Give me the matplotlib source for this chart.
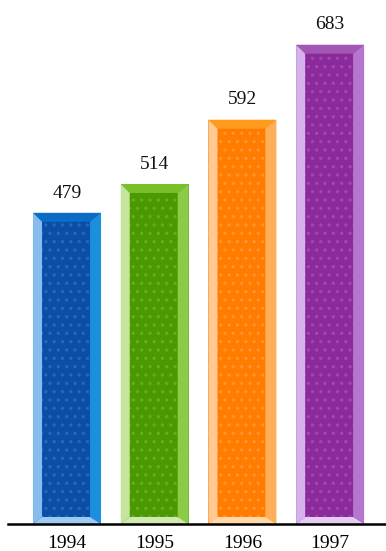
import matplotlib
matplotlib.use("Agg")
import matplotlib.pyplot as plt
from matplotlib.patches import Polygon

years = ["1994", "1995", "1996", "1997"]
values = [479, 514, 592, 683]

# face, top bevel, left bevel, right bevel, bottom bevel, dot texture
palette = {
    "1994": ["#0a4ea6", "#0b6cc8", "#86bdee", "#1b8fdd", "#9ccaf2", "#2a66b8"],
    "1995": ["#4b9900", "#78bf2a", "#c4e4a0", "#8ccb48", "#cfe9b0", "#66ac22"],
    "1996": ["#ff7c00", "#ff9a1e", "#ffc991", "#ffae5a", "#ffd7a8", "#ff9530"],
    "1997": ["#8b2a9b", "#a456b4", "#d6b2ec", "#b675ce", "#e4cdf2", "#9f48ae"],
}

plt.rcParams["hatch.linewidth"] = 1.2

W, H, DPI = 386, 551, 100
fig = plt.figure(figsize=(W / DPI, H / DPI), dpi=DPI)
ax = fig.add_axes([8 / W, 27 / H, 378 / W, 524 / H])

ax.set_xlim(-0.673, 3.637)
ax.set_ylim(101.3, 737.3)
floor = ax.get_ylim()[0]

x = list(range(len(years)))
bars = ax.bar(x, [v - floor for v in values], width=0.775, bottom=floor,
              color=[palette[y][0] for y in years],
              edgecolor=[palette[y][5] for y in years],
              linewidth=0, hatch="..", zorder=2)

fig.canvas.draw()
to_disp = ax.transData
to_data = ax.transData.inverted()

bev_t, bev_l, bev_r, bev_b = 9, 9, 11, 7
for b, yr in zip(bars, years):
    face, ctop, cleft, cright, cbot, cdot = palette[yr]
    (x0, y0), (x1, y1) = to_disp.transform([(b.get_x(), b.get_y()),
                                             (b.get_x() + b.get_width(),
                                              b.get_y() + b.get_height())])
    ix0, iy0, ix1, iy1 = x0 + bev_l, y0 + bev_b, x1 - bev_r, y1 - bev_t
    quads = [
        ([(x0, y1), (x1, y1), (ix1, iy1), (ix0, iy1)], ctop),
        ([(x0, y0), (x0, y1), (ix0, iy1), (ix0, iy0)], cleft),
        ([(x1, y0), (x1, y1), (ix1, iy1), (ix1, iy0)], cright),
        ([(x0, y0), (x1, y0), (ix1, iy0), (ix0, iy0)], cbot),
    ]
    for pts, c in quads:
        ax.add_patch(Polygon(to_data.transform(pts), closed=True,
                             facecolor=c, edgecolor="none", zorder=3))

for xi, v in zip(x, values):
    ax.annotate(str(v), (xi, v), xytext=(0, 11), textcoords="offset points",
                ha="center", va="baseline", fontsize=14,
                family="Liberation Serif", color="#111111")

for s in ["top", "left", "right"]:
    ax.spines[s].set_visible(False)
ax.spines["bottom"].set_linewidth(1.8)
ax.spines["bottom"].set_color("black")
ax.spines["bottom"].set_zorder(5)
ax.set_yticks([])
ax.set_xticks(x)
ax.set_xticklabels(years, family="Liberation Serif", fontsize=14)
ax.tick_params(axis="x", length=0, pad=8)
ax.patch.set_alpha(0)

fig.savefig("out.png", dpi=DPI)
